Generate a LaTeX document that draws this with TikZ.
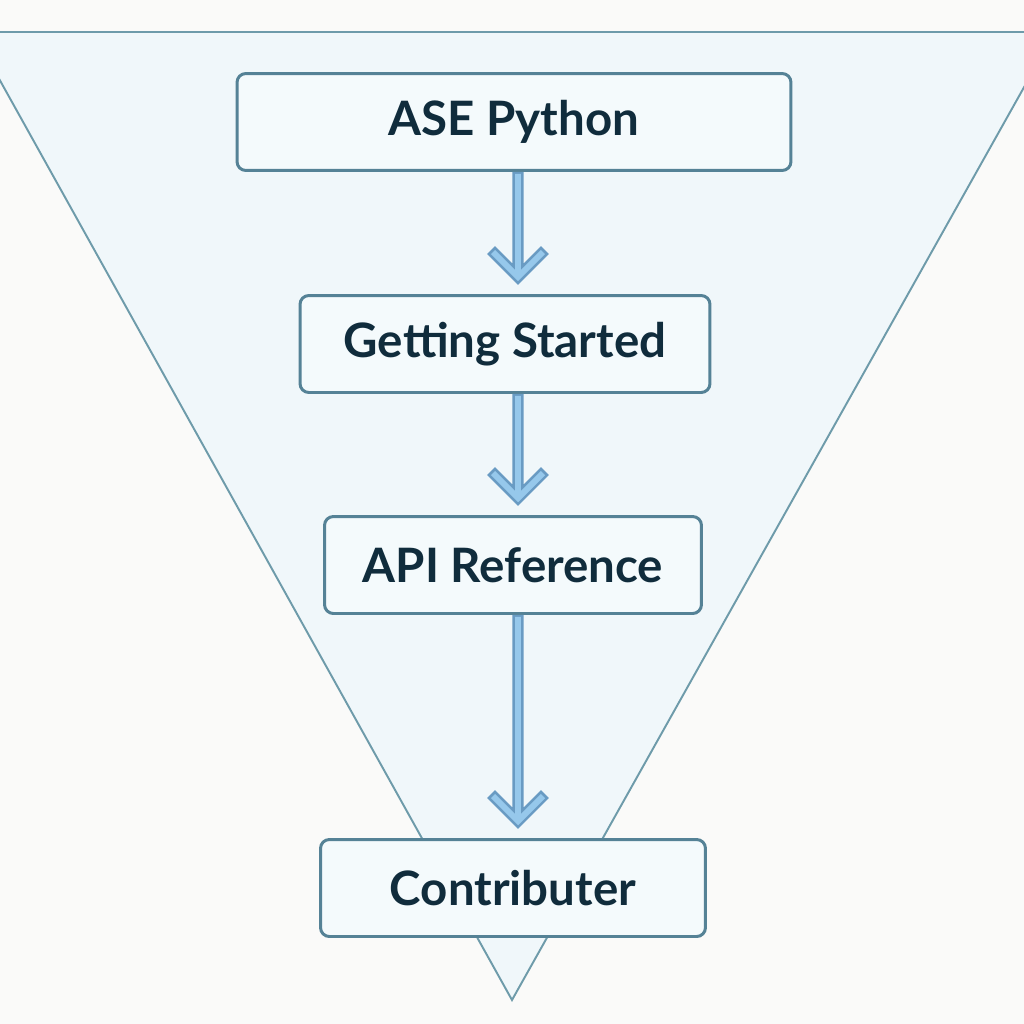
\documentclass[tikz,border=0pt]{standalone}
\usepackage{fontspec}
\setmainfont{Lato}
\usepackage{xcolor}
\definecolor{paper}{RGB}{250,250,249}
\definecolor{funnelfill}{RGB}{240,247,250}
\definecolor{funnelline}{RGB}{110,155,170}
\definecolor{boxline}{RGB}{85,130,150}
\definecolor{boxfill}{RGB}{244,250,252}
\definecolor{ink}{RGB}{16,44,60}
\definecolor{flowedge}{RGB}{105,155,195}
\definecolor{flowcore}{RGB}{150,200,235}
\tikzset{
  stage/.style={
    draw=boxline, fill=boxfill, line width=1.7pt, rounded corners=5pt,
    minimum height=1.94cm, text=ink,
    font=\fontsize{27}{30}\selectfont\bfseries
  },
  flowout/.style={draw=flowedge, line width=6.4pt, line join=miter},
  flowin/.style={draw=flowcore, line width=3.4pt, line join=miter}
}
\usetikzlibrary{calc}

\begin{document}
\begin{tikzpicture}[x=0.02cm, y=-0.02cm]
    % page, one unit = one pixel of the 1024 image
    \fill[paper] (0,0) rectangle (1024,1024);
    \useasboundingbox (0,0) rectangle (1024,1024);
    \clip (0,0) rectangle (1024,1024);

    % the funnel
    \filldraw[fill=funnelfill, draw=funnelline, line width=1.1pt]
        (-27,32) -- (1055,32) -- (512,1000) -- cycle;

    \node[stage, minimum width=11.08cm] (asepy) at (514,122) {ASE Python};
    \node[stage, minimum width=8.2cm] (start) at (505,344) {Getting Started};
    \node[stage, minimum width=7.54cm] (apiref) at (513,565) {API Reference};
    \node[stage, minimum width=7.7cm] (contrib) at (513,888) {Contributer};

    \coordinate (flowx) at (518,0);
    \foreach \a/\b in {asepy/start, start/apiref, apiref/contrib}{
        \coordinate (tip) at ($(flowx |- \b.north)+(0,-17)$);
        \draw[flowout] (flowx |- \a.south) -- (tip)
            (tip) ++(-27,-27) -- (tip) -- ++(27,-27);
        \draw[flowin] ($(flowx |- \a.south)+(0,2)$) -- (tip)
            (tip) ++(-25,-25) -- (tip) -- ++(25,-25);
    }
\end{tikzpicture}
\end{document}
